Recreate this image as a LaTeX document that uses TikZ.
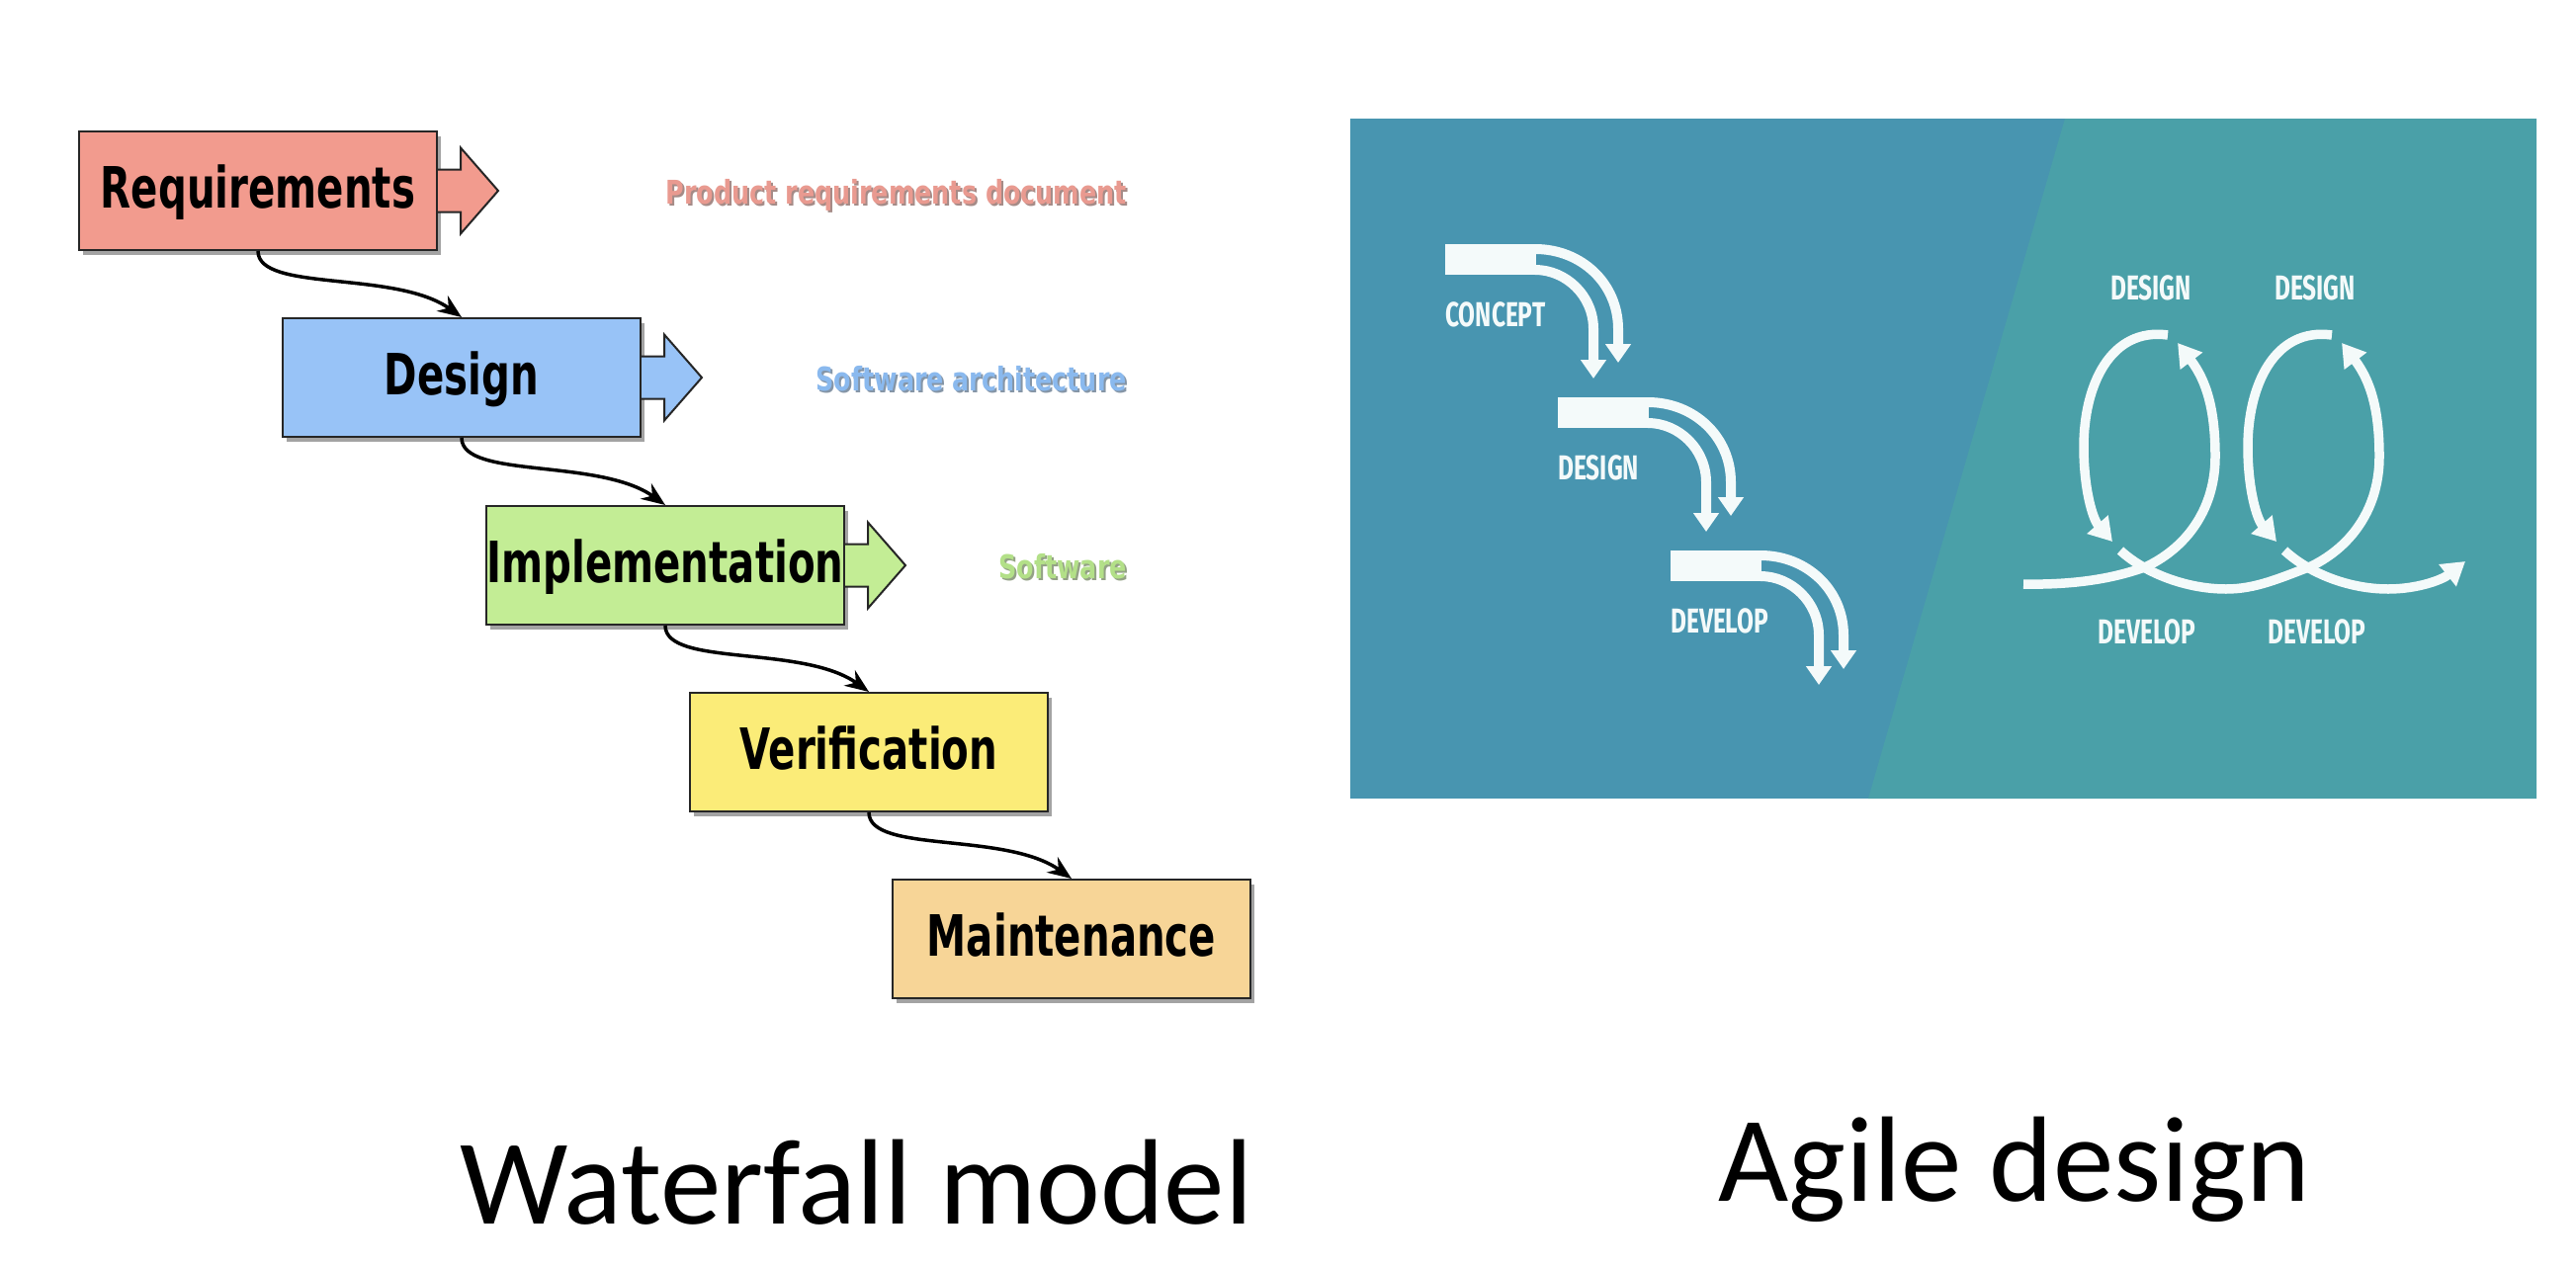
\documentclass[tikz,border=0pt]{standalone}
\usepackage{fontspec}
\usetikzlibrary{arrows.meta,shadows,calc}
\newfontfamily\boxfont[FakeStretch=0.70]{DejaVu Sans}
\newfontfamily\sidefont[FakeStretch=0.77]{DejaVu Sans}
\newfontfamily\capsfont[FakeStretch=0.70]{Fira Sans}
\newfontfamily\titlefont{Carlito}
\definecolor{reqc}{HTML}{F29B8E}
\definecolor{desc}{HTML}{98C3F7}
\definecolor{impc}{HTML}{C3ED95}
\definecolor{verc}{HTML}{FBEC78}
\definecolor{maic}{HTML}{F7D597}
\definecolor{reqt}{HTML}{E99A90}
\definecolor{dest}{HTML}{8AB9EE}
\definecolor{impt}{HTML}{B3E088}
\definecolor{panelL}{HTML}{4895B0}
\definecolor{panelR}{HTML}{4AA0A8}
\definecolor{ink}{HTML}{F4FAFA}
\tikzset{
  wbox/.style={draw=black!85, line width=2pt, minimum width=362pt, minimum height=120pt,
    inner sep=0pt, font=\boxfont\bfseries\fontsize{57.6}{60}\selectfont,
    text height=42pt, text depth=8pt,
    drop shadow={shadow xshift=4pt, shadow yshift=-5pt, opacity=0.45, fill=black!80}},
  wconn/.style={line width=3.5pt, draw=black, -{Stealth[length=24pt,width=19pt]}},
  barrow/.style={draw=black!85, line width=2pt, line join=miter},
  sidelab/.style={font=\sidefont\bfseries\fontsize{33}{36}\selectfont, anchor=base east, inner sep=0pt},
  capslab/.style={font=\capsfont\bfseries\fontsize{35}{38}\selectfont, text=ink, inner sep=0pt},
  wline/.style={draw=ink, line width=10pt, line cap=butt, -{Triangle[width=25pt,length=19pt]}},
  aline/.style={draw=ink, line width=9.5pt, line cap=butt},
  ahead/.style={-{Triangle[width=27pt,length=23pt]}},
  titlelab/.style={font=\titlefont\fontsize{123}{130}\selectfont, anchor=base west, inner sep=0pt},
  wfstep/.pic={
    \fill[ink] (0,0) rectangle (92,31);
    \draw[wline] (91,5) .. controls (138,5) and (175,40) .. (175,86) -- (175,120);
    \draw[wline] (91,26) .. controls (122,26) and (150,52) .. (150,86) -- (150,136);
  }
}
\begin{document}
\begin{tikzpicture}[x=1pt,y=-1pt]
\useasboundingbox (0,0) rectangle (2606,1282);
\fill[white] (0,0) rectangle (2606,1282);

% ---------------- Waterfall (left) ----------------
\node[wbox, fill=reqc] (req) at (261,193) {Requirements};
\node[wbox, fill=desc] (des) at (467,382) {Design};
\node[wbox, fill=impc] (imp) at (673,572) {Implementation};
\node[wbox, fill=verc] (ver) at (879,761) {Verification};
\node[wbox, fill=maic] (mai) at (1084,950) {Maintenance};

\foreach \b/\c in {req/reqc, des/desc, imp/impc}{
  \filldraw[barrow, fill=\c] (\b.east) ++(0,-21.5) -- ++(23,0) -- ++(0,-22) -- ++(38,43.5)
      -- ++(-38,43.5) -- ++(0,-22) -- ++(-23,0);
}

\draw[wconn] (req.south) .. controls +(0,42) and +(-67,-48) .. (des.north);
\draw[wconn] (des.south) .. controls +(0,42) and +(-67,-48) .. (imp.north);
\draw[wconn] (imp.south) .. controls +(0,42) and +(-67,-48) .. (ver.north);
\draw[wconn] (ver.south) .. controls +(0,42) and +(-67,-48) .. (mai.north);

\node[sidelab, text=reqt!50!black, opacity=0.65] (prdS) at (1142,208) {Product requirements document};
\node[sidelab, text=reqt] (prd) at (1140,206) {Product requirements document};
\node[sidelab, text=dest!50!black, opacity=0.65] (archS) at (1142,397) {Software architecture};
\node[sidelab, text=dest] (arch) at (1140,395) {Software architecture};
\node[sidelab, text=impt!50!black, opacity=0.65] (swS) at (1142,587) {Software};
\node[sidelab, text=impt] (sw) at (1140,585) {Software};

% ---------------- Agile panel (right) ----------------
\fill[panelL] (1366,120) rectangle (2566,808);
\fill[panelR] (2089,120) -- (2566,120) -- (2566,808) -- (1890,808) -- cycle;

% waterfall icon
\pic at (1462,247) {wfstep};
\pic at (1576,402) {wfstep};
\pic at (1690,557) {wfstep};
\node[capslab, anchor=base west] (lconc) at (1462,330) {CONCEPT};
\node[capslab, anchor=base west] (ldes) at (1576,485) {DESIGN};
\node[capslab, anchor=base west] (ldev) at (1690,640) {DEVELOP};

% agile loops
\draw[aline, ahead] (2047,591) .. controls (2100,592) and (2140,585) .. (2172,573)
   .. controls (2215,552) and (2241,512) .. (2241,462)
   .. controls (2241,414) and (2232,385) .. (2203,347);
\draw[aline, ahead] (2193,339) .. controls (2135,331) and (2108,390) .. (2108,452)
   .. controls (2108,495) and (2117,525) .. (2137,548);
\draw[aline, ahead] (2145,557) .. controls (2170,580) and (2212,596) .. (2252,596)
   .. controls (2282,596) and (2306,585) .. (2338,573)
   .. controls (2381,552) and (2407,512) .. (2407,462)
   .. controls (2407,414) and (2398,385) .. (2369,347);
\draw[aline, ahead] (2359,339) .. controls (2301,331) and (2274,390) .. (2274,452)
   .. controls (2274,495) and (2283,525) .. (2303,548);
\draw[aline, ahead] (2311,557) .. controls (2336,580) and (2376,596) .. (2416,596)
   .. controls (2445,596) and (2470,587) .. (2494,568);

\node[capslab, anchor=base] (rdes1) at (2176,303) {DESIGN};
\node[capslab, anchor=base] (rdes2) at (2342,303) {DESIGN};
\node[capslab, anchor=base] (rdev1) at (2172,651) {DEVELOP};
\node[capslab, anchor=base] (rdev2) at (2344,651) {DEVELOP};

% ---------------- Titles ----------------
\node[titlelab] (wtitle) at (465,1238) {Waterfall model};
\node[titlelab] (atitle) at (1738,1215) {Agile design};
\end{tikzpicture}
\end{document}
